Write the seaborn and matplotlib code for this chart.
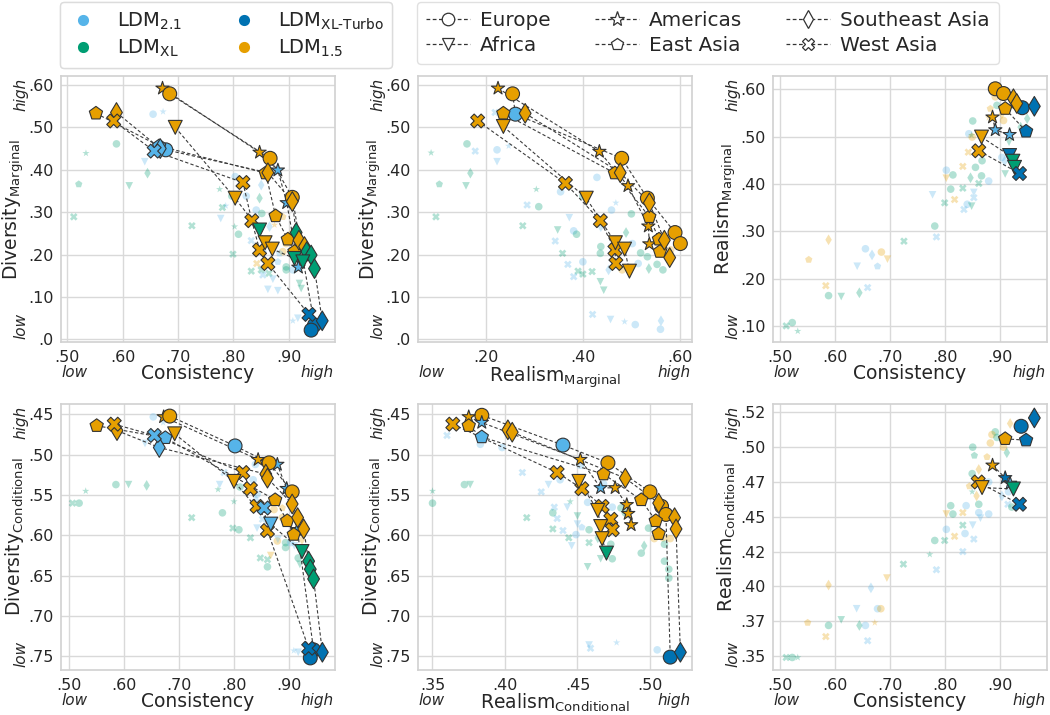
import numpy as np
import pandas as pd
import matplotlib
matplotlib.use("Agg")
import matplotlib.pyplot as plt
import seaborn as sns
from matplotlib.lines import Line2D
from matplotlib.ticker import FuncFormatter, FixedLocator

# ---------------- data ----------------
MODEL_CODES = ["b", "g", "t", "o"]
MODEL_LABELS = [r"LDM$_{\mathrm{2.1}}$", r"LDM$_{\mathrm{XL}}$",
                r"LDM$_{\mathrm{XL\text{-}Turbo}}$", r"LDM$_{\mathrm{1.5}}$"]
REGION_CODES = ["EU", "AF", "AM", "EA", "SEA", "WA"]
REGION_LABELS = ["Europe", "Africa", "Americas", "East Asia", "Southeast Asia", "West Asia"]

# front points: (line/region, model, x, y)
P1_FRONT = [
    ("AM", "o", 0.672, 0.592), ("AM", "o", 0.847, 0.441), ("AM", "b", 0.880, 0.399), ("AM", "b", 0.896, 0.322), ("AM", "b", 0.917, 0.170),
    ("EU", "o", 0.685, 0.579), ("EU", "o", 0.866, 0.427), ("EU", "o", 0.906, 0.335), ("EU", "t", 0.946, 0.034), ("EU", "t", 0.940, 0.022),
    ("EU2", "b", 0.678, 0.447),
    ("EA", "o", 0.552, 0.533), ("EA", "b", 0.666, 0.456), ("EA", "o", 0.858, 0.392), ("EA", "o", 0.876, 0.291), ("EA", "o", 0.898, 0.236), ("EA", "o", 0.910, 0.207),
    ("SEA", "o", 0.589, 0.535), ("SEA", "b", 0.668, 0.450), ("SEA", "o", 0.862, 0.393), ("SEA", "o", 0.906, 0.325), ("SEA", "g", 0.913, 0.252), ("SEA", "o", 0.918, 0.234), ("SEA", "o", 0.928, 0.219), ("SEA", "g", 0.932, 0.207), ("SEA", "g", 0.940, 0.199), ("SEA", "g", 0.946, 0.167), ("SEA", "t", 0.960, 0.044),
    ("WA", "o", 0.584, 0.515), ("WA", "b", 0.657, 0.444), ("WA", "o", 0.817, 0.370), ("WA", "o", 0.833, 0.280), ("WA", "o", 0.847, 0.211), ("WA", "o", 0.862, 0.179), ("WA", "t", 0.936, 0.059),
    ("AF", "o", 0.695, 0.500), ("AF", "o", 0.803, 0.333), ("AF", "g", 0.847, 0.258), ("AF", "o", 0.857, 0.228), ("AF", "o", 0.870, 0.213), ("AF", "g", 0.910, 0.191), ("AF", "g", 0.925, 0.183),
]
P1_BG = [
    ("b", "EU", 0.655, 0.531), ("b", "AM", 0.673, 0.537), ("g", "EU", 0.589, 0.461), ("g", "AM", 0.534, 0.439), ("b", "AF", 0.640, 0.419), ("g", "SEA", 0.645, 0.392), ("g", "EA", 0.521, 0.366), ("g", "AF", 0.612, 0.362), ("g", "WA", 0.512, 0.289), ("g", "WA", 0.725, 0.268),
    ("b", "EU", 0.803, 0.384), ("g", "AM", 0.775, 0.354), ("b", "AM", 0.786, 0.315), ("g", "WA", 0.780, 0.311), ("b", "AF", 0.777, 0.285), ("g", "EU", 0.797, 0.338), ("b", "EU", 0.823, 0.338), ("b", "SEA", 0.850, 0.364), ("g", "SEA", 0.847, 0.333), ("b", "EU", 0.841, 0.305),
    ("g", "EU", 0.851, 0.297), ("g", "EU", 0.809, 0.248), ("g", "AM", 0.802, 0.266), ("b", "SEA", 0.865, 0.266), ("o", "AM", 0.874, 0.270), ("o", "EA", 0.889, 0.289), ("b", "WA", 0.832, 0.233), ("g", "WA", 0.799, 0.201), ("b", "EU", 0.853, 0.207), ("o", "EU", 0.895, 0.226),
    ("o", "EU", 0.889, 0.207), ("o", "EA", 0.904, 0.250), ("g", "EU", 0.895, 0.171), ("g", "EU", 0.895, 0.164), ("g", "EU", 0.865, 0.179), ("o", "WA", 0.842, 0.179), ("g", "WA", 0.832, 0.161), ("g", "WA", 0.850, 0.164), ("b", "WA", 0.853, 0.152), ("g", "WA", 0.864, 0.156),
    ("b", "EA", 0.880, 0.183), ("b", "AF", 0.871, 0.142), ("b", "AF", 0.862, 0.118), ("b", "AF", 0.880, 0.115), ("g", "AF", 0.919, 0.132), ("g", "AF", 0.922, 0.120), ("b", "AF", 0.916, 0.050), ("b", "AM", 0.907, 0.044), ("b", "EU", 0.907, 0.164), ("b", "EA", 0.883, 0.203),
]

P2_FRONT = [
    ("AM", "o", 0.225, 0.592), ("AM", "o", 0.434, 0.443), ("AM", "o", 0.493, 0.362), ("AM", "o", 0.535, 0.267), ("AM", "o", 0.537, 0.225),
    ("EU", "o", 0.255, 0.579), ("EU", "b", 0.261, 0.531), ("EU", "o", 0.480, 0.427), ("EU", "o", 0.533, 0.333), ("EU", "o", 0.590, 0.252), ("EU", "o", 0.601, 0.226),
    ("EA", "o", 0.236, 0.533), ("EA", "o", 0.466, 0.392), ("EA", "o", 0.537, 0.289), ("EA", "o", 0.557, 0.236), ("EA", "o", 0.559, 0.207),
    ("SEA", "o", 0.281, 0.533), ("SEA", "o", 0.477, 0.393), ("SEA", "o", 0.537, 0.322), ("SEA", "o", 0.568, 0.234), ("SEA", "o", 0.579, 0.193),
    ("WA", "o", 0.183, 0.515), ("WA", "o", 0.364, 0.368), ("WA", "o", 0.436, 0.280), ("WA", "o", 0.466, 0.211), ("WA", "o", 0.468, 0.179),
    ("AF", "o", 0.236, 0.502), ("AF", "o", 0.407, 0.333), ("AF", "o", 0.467, 0.228), ("AF", "o", 0.486, 0.213), ("AF", "o", 0.496, 0.161),
]
P2_BG = [
    ("g", "AM", 0.087, 0.440), ("g", "EU", 0.161, 0.461), ("b", "WA", 0.178, 0.444), ("b", "EU", 0.223, 0.447), ("b", "AM", 0.247, 0.456), ("b", "WA", 0.219, 0.535), ("b", "AF", 0.223, 0.419), ("g", "SEA", 0.168, 0.392), ("g", "EA", 0.104, 0.366), ("g", "AF", 0.159, 0.362),
    ("g", "WA", 0.097, 0.289), ("g", "AM", 0.304, 0.354), ("b", "WA", 0.285, 0.317), ("g", "EU", 0.309, 0.313), ("g", "WA", 0.276, 0.268), ("b", "EU", 0.429, 0.382), ("b", "EU", 0.354, 0.348), ("g", "EU", 0.400, 0.338), ("b", "EU", 0.459, 0.305), ("g", "EU", 0.500, 0.296),
    ("b", "AM", 0.468, 0.322), ("b", "AF", 0.372, 0.287), ("b", "EU", 0.381, 0.256), ("g", "EU", 0.387, 0.248), ("b", "SEA", 0.437, 0.266), ("g", "AF", 0.348, 0.258), ("b", "WA", 0.343, 0.232), ("g", "WA", 0.358, 0.203), ("g", "EU", 0.437, 0.219), ("b", "EU", 0.400, 0.183),
    ("g", "EU", 0.436, 0.203), ("g", "SEA", 0.489, 0.252), ("b", "WA", 0.369, 0.177), ("g", "WA", 0.390, 0.161), ("b", "WA", 0.381, 0.148), ("g", "WA", 0.400, 0.154), ("g", "WA", 0.419, 0.160), ("b", "SEA", 0.453, 0.164), ("g", "EU", 0.466, 0.179), ("b", "EU", 0.502, 0.226),
    ("b", "EU", 0.514, 0.179), ("g", "EU", 0.553, 0.177), ("g", "EU", 0.565, 0.164), ("g", "EU", 0.533, 0.195), ("g", "EU", 0.519, 0.204), ("g", "SEA", 0.536, 0.167), ("o", "EU", 0.481, 0.164), ("o", "EU", 0.581, 0.211), ("g", "AF", 0.436, 0.136), ("g", "AF", 0.443, 0.116),
    ("b", "WA", 0.420, 0.059), ("b", "AF", 0.457, 0.047), ("b", "AM", 0.486, 0.042), ("b", "EU", 0.508, 0.035), ("b", "EU", 0.560, 0.024), ("b", "SEA", 0.561, 0.044),
]

P3_FRONT = [
    ("EU", "o", 0.892, 0.601), ("EU", "o", 0.907, 0.591), ("EU", "t", 0.941, 0.561),
    ("SEA", "o", 0.925, 0.580), ("SEA", "o", 0.931, 0.570), ("SEA", "t", 0.963, 0.564),
    ("EA", "o", 0.910, 0.559), ("EA", "t", 0.948, 0.511),
    ("AM", "o", 0.887, 0.541), ("AM", "b", 0.892, 0.514), ("AM", "b", 0.918, 0.504),
    ("AF", "o", 0.867, 0.499), ("AF", "t", 0.918, 0.460), ("AF", "g", 0.924, 0.448), ("AF", "g", 0.927, 0.435),
    ("WA", "o", 0.862, 0.470), ("WA", "t", 0.936, 0.422),
]
P3_BG = [
    ("o", "EU", 0.892, 0.584), ("o", "EA", 0.883, 0.559), ("g", "EU", 0.895, 0.566), ("o", "EU", 0.907, 0.534), ("o", "SEA", 0.904, 0.548), ("g", "EU", 0.851, 0.533), ("o", "AM", 0.880, 0.540), ("g", "SEA", 0.950, 0.538), ("g", "SEA", 0.938, 0.520), ("g", "AF", 0.917, 0.488),
    ("b", "EU", 0.844, 0.506), ("g", "AM", 0.849, 0.503), ("o", "EU", 0.850, 0.499), ("b", "EU", 0.904, 0.456), ("b", "SEA", 0.909, 0.448), ("o", "WA", 0.843, 0.467), ("g", "EU", 0.868, 0.449), ("g", "EU", 0.856, 0.435), ("g", "SEA", 0.847, 0.413), ("g", "EU", 0.867, 0.417),
    ("b", "EU", 0.880, 0.406), ("g", "WA", 0.862, 0.401), ("o", "WA", 0.833, 0.437), ("g", "AF", 0.910, 0.421), ("b", "EU", 0.803, 0.429), ("g", "EU", 0.815, 0.419), ("o", "AF", 0.803, 0.412), ("g", "EU", 0.811, 0.389), ("g", "WA", 0.833, 0.391), ("o", "WA", 0.818, 0.367),
    ("g", "WA", 0.800, 0.360), ("b", "AF", 0.778, 0.377), ("b", "AF", 0.853, 0.382), ("b", "WA", 0.853, 0.371), ("b", "EU", 0.841, 0.357), ("g", "AF", 0.849, 0.353), ("b", "WA", 0.835, 0.346), ("g", "EU", 0.782, 0.311), ("b", "WA", 0.785, 0.288), ("g", "WA", 0.726, 0.279),
    ("o", "SEA", 0.589, 0.282), ("b", "EU", 0.656, 0.263), ("b", "SEA", 0.668, 0.250), ("o", "EU", 0.685, 0.256), ("o", "AF", 0.696, 0.241), ("b", "EA", 0.678, 0.226), ("b", "AF", 0.641, 0.226), ("o", "EA", 0.553, 0.240), ("o", "WA", 0.584, 0.185), ("g", "EU", 0.589, 0.164),
    ("g", "AF", 0.612, 0.162), ("b", "WA", 0.660, 0.181), ("g", "SEA", 0.645, 0.170), ("g", "EU", 0.523, 0.107), ("g", "WA", 0.512, 0.100), ("g", "AM", 0.533, 0.089),
]

P4_FRONT = [
    ("AM", "o", 0.672, 0.453), ("AM", "o", 0.844, 0.506), ("AM", "b", 0.879, 0.512), ("AM", "b", 0.896, 0.542), ("AM", "b", 0.915, 0.593),
    ("EU", "o", 0.683, 0.452), ("EU", "b", 0.802, 0.489), ("EU", "o", 0.864, 0.510), ("EU", "o", 0.906, 0.546), ("EU", "t", 0.945, 0.742), ("EU", "t", 0.939, 0.752),
    ("EA", "o", 0.550, 0.464), ("EA", "b", 0.675, 0.479), ("EA", "o", 0.875, 0.556), ("EA", "o", 0.897, 0.582), ("EA", "o", 0.909, 0.599),
    ("SEA", "o", 0.587, 0.470), ("SEA", "b", 0.664, 0.491), ("SEA", "o", 0.858, 0.524), ("SEA", "o", 0.861, 0.529), ("SEA", "o", 0.906, 0.561), ("SEA", "o", 0.916, 0.578), ("SEA", "o", 0.927, 0.592), ("SEA", "g", 0.936, 0.632), ("SEA", "g", 0.939, 0.642), ("SEA", "g", 0.945, 0.654), ("SEA", "t", 0.961, 0.745),
    ("WA", "o", 0.582, 0.462), ("WA", "b", 0.655, 0.476), ("WA", "o", 0.816, 0.522), ("WA", "o", 0.830, 0.542), ("WA", "o", 0.842, 0.564), ("WA", "b", 0.855, 0.566), ("WA", "o", 0.861, 0.594), ("WA", "t", 0.936, 0.740),
    ("AF", "o", 0.692, 0.474), ("AF", "o", 0.800, 0.533), ("AF", "b", 0.867, 0.586), ("AF", "g", 0.924, 0.620),
]
P4_BG = [
    ("b", "EU", 0.653, 0.453), ("b", "AM", 0.671, 0.460), ("b", "AF", 0.638, 0.486), ("g", "AM", 0.530, 0.545), ("g", "EU", 0.585, 0.537), ("g", "AF", 0.608, 0.537), ("g", "SEA", 0.641, 0.538), ("g", "WA", 0.506, 0.560), ("g", "EU", 0.518, 0.560), ("g", "WA", 0.723, 0.578),
    ("g", "EU", 0.779, 0.572), ("b", "WA", 0.782, 0.522), ("b", "AF", 0.774, 0.537), ("g", "AM", 0.771, 0.543), ("g", "AM", 0.800, 0.558), ("g", "EU", 0.811, 0.540), ("b", "EU", 0.839, 0.512), ("b", "EU", 0.835, 0.531), ("b", "EU", 0.842, 0.549), ("b", "SEA", 0.840, 0.556),
    ("g", "WA", 0.798, 0.591), ("g", "EU", 0.809, 0.593), ("g", "WA", 0.830, 0.603), ("o", "EU", 0.873, 0.568), ("o", "AM", 0.861, 0.582), ("o", "EA", 0.888, 0.566), ("o", "EU", 0.888, 0.578), ("o", "EU", 0.879, 0.607), ("g", "EU", 0.894, 0.609), ("g", "EU", 0.894, 0.615),
    ("g", "WA", 0.848, 0.628), ("g", "WA", 0.861, 0.630), ("g", "EU", 0.861, 0.639), ("b", "AF", 0.880, 0.605), ("o", "AF", 0.867, 0.625), ("b", "EU", 0.903, 0.609), ("o", "SEA", 0.924, 0.605), ("b", "AF", 0.910, 0.613), ("g", "EU", 0.917, 0.628), ("g", "AF", 0.920, 0.636),
    ("b", "AM", 0.909, 0.743), ("b", "AF", 0.917, 0.745), ("b", "AF", 0.842, 0.591), ("b", "WA", 0.852, 0.580),
]

P5_FRONT = [
    ("EU", "o", 0.384, 0.451), ("EU", "b", 0.440, 0.488), ("EU", "o", 0.471, 0.510), ("EU", "o", 0.500, 0.546), ("EU", "o", 0.508, 0.564), ("EU", "o", 0.511, 0.574), ("EU", "t", 0.514, 0.751),
    ("AM", "o", 0.375, 0.453), ("AM", "b", 0.384, 0.460), ("AM", "o", 0.452, 0.506), ("AM", "b", 0.466, 0.541), ("AM", "o", 0.476, 0.541), ("AM", "o", 0.484, 0.562), ("AM", "o", 0.485, 0.573), ("AM", "o", 0.487, 0.587),
    ("EA", "o", 0.375, 0.464), ("EA", "b", 0.384, 0.478), ("EA", "o", 0.468, 0.524), ("EA", "o", 0.494, 0.556), ("EA", "o", 0.504, 0.582), ("EA", "o", 0.506, 0.598),
    ("SEA", "o", 0.402, 0.469), ("SEA", "o", 0.405, 0.472), ("SEA", "o", 0.483, 0.529), ("SEA", "o", 0.506, 0.560), ("SEA", "o", 0.517, 0.578), ("SEA", "o", 0.518, 0.592), ("SEA", "t", 0.521, 0.745),
    ("WA", "o", 0.364, 0.462), ("WA", "o", 0.436, 0.522), ("WA", "o", 0.453, 0.542), ("WA", "o", 0.467, 0.564), ("WA", "o", 0.473, 0.580), ("WA", "o", 0.474, 0.593),
    ("AF", "o", 0.451, 0.533), ("AF", "o", 0.464, 0.569), ("AF", "o", 0.466, 0.589), ("AF", "o", 0.467, 0.604), ("AF", "g", 0.470, 0.622),
]
P5_BG = [
    ("b", "WA", 0.360, 0.476), ("b", "EU", 0.383, 0.487), ("b", "EU", 0.398, 0.491), ("g", "AM", 0.350, 0.545), ("g", "EU", 0.350, 0.560), ("g", "EU", 0.372, 0.537), ("g", "AF", 0.376, 0.537), ("b", "WA", 0.412, 0.522), ("b", "AF", 0.430, 0.537), ("b", "WA", 0.425, 0.546),
    ("b", "EU", 0.438, 0.531), ("b", "EU", 0.452, 0.513), ("b", "EU", 0.468, 0.536), ("g", "AM", 0.445, 0.558), ("b", "AF", 0.443, 0.565), ("b", "WA", 0.434, 0.565), ("b", "WA", 0.436, 0.579), ("g", "EU", 0.433, 0.572), ("g", "WA", 0.415, 0.578), ("b", "EU", 0.457, 0.559),
    ("b", "EU", 0.474, 0.565), ("g", "EU", 0.480, 0.566), ("g", "EU", 0.483, 0.572), ("g", "WA", 0.433, 0.592), ("b", "WA", 0.440, 0.594), ("b", "AF", 0.450, 0.586), ("b", "EA", 0.453, 0.590), ("b", "EU", 0.449, 0.599), ("b", "AF", 0.446, 0.613), ("g", "WA", 0.444, 0.603),
    ("g", "EU", 0.458, 0.593), ("g", "WA", 0.458, 0.609), ("g", "AF", 0.450, 0.576), ("g", "SEA", 0.464, 0.603), ("g", "EU", 0.473, 0.611), ("g", "EU", 0.474, 0.629), ("g", "AF", 0.466, 0.629), ("g", "AF", 0.457, 0.639), ("o", "EU", 0.503, 0.604), ("o", "EU", 0.509, 0.603),
    ("o", "EU", 0.514, 0.604), ("g", "EU", 0.499, 0.591), ("g", "EU", 0.510, 0.611), ("g", "SEA", 0.496, 0.613), ("g", "EU", 0.494, 0.622), ("g", "EU", 0.510, 0.632), ("g", "EU", 0.513, 0.642), ("g", "EU", 0.513, 0.653), ("b", "AF", 0.458, 0.736), ("b", "WA", 0.459, 0.740),
    ("b", "AM", 0.477, 0.733), ("b", "EU", 0.505, 0.742),
]

P6_FRONT = [
    ("SEA", "t", 0.963, 0.521), ("EU", "t", 0.939, 0.515),
    ("EA", "o", 0.910, 0.506), ("EA", "t", 0.948, 0.505),
    ("AM", "o", 0.887, 0.487), ("AM", "t", 0.910, 0.478), ("AM", "b", 0.919, 0.474),
    ("WA", "o", 0.861, 0.475), ("WA", "t", 0.936, 0.459),
    ("AF", "o", 0.868, 0.471), ("AF", "g", 0.925, 0.470),
]
P6_BG = [
    ("o", "SEA", 0.919, 0.517), ("o", "SEA", 0.931, 0.515), ("g", "EU", 0.892, 0.511), ("o", "EU", 0.886, 0.509), ("g", "EU", 0.895, 0.507), ("o", "EU", 0.883, 0.503), ("o", "EU", 0.907, 0.500), ("g", "EU", 0.851, 0.500), ("g", "EA", 0.854, 0.494), ("o", "EA", 0.877, 0.493),
    ("g", "SEA", 0.913, 0.496), ("g", "EU", 0.850, 0.481), ("o", "SEA", 0.862, 0.484), ("o", "EA", 0.845, 0.472), ("g", "AM", 0.850, 0.468), ("o", "SEA", 0.858, 0.465), ("b", "EU", 0.880, 0.475), ("b", "EU", 0.916, 0.468), ("b", "SEA", 0.904, 0.465), ("b", "WA", 0.915, 0.459),
    ("g", "EU", 0.922, 0.457), ("g", "EU", 0.862, 0.459), ("b", "EU", 0.839, 0.458), ("b", "EU", 0.862, 0.453), ("b", "AF", 0.865, 0.449), ("b", "EU", 0.880, 0.452), ("g", "EU", 0.811, 0.458), ("g", "EU", 0.815, 0.452), ("o", "AF", 0.803, 0.452), ("o", "WA", 0.833, 0.453),
    ("g", "WA", 0.833, 0.444), ("b", "AF", 0.851, 0.444), ("b", "WA", 0.853, 0.434), ("b", "EU", 0.837, 0.438), ("b", "EU", 0.803, 0.441), ("o", "WA", 0.818, 0.436), ("g", "WA", 0.800, 0.433), ("g", "EU", 0.782, 0.433), ("b", "WA", 0.833, 0.425), ("g", "AM", 0.773, 0.423),
    ("g", "WA", 0.725, 0.416), ("b", "WA", 0.785, 0.412), ("o", "AF", 0.695, 0.406), ("o", "SEA", 0.589, 0.401), ("b", "SEA", 0.666, 0.399), ("b", "AF", 0.640, 0.384), ("b", "EU", 0.678, 0.384), ("o", "EU", 0.684, 0.384), ("o", "EA", 0.551, 0.374), ("g", "AF", 0.612, 0.376),
    ("g", "EU", 0.589, 0.372), ("g", "SEA", 0.645, 0.372), ("b", "EU", 0.656, 0.372), ("o", "AM", 0.673, 0.374), ("o", "WA", 0.584, 0.364), ("b", "WA", 0.660, 0.361), ("g", "WA", 0.512, 0.349), ("g", "EU", 0.523, 0.349), ("g", "AM", 0.533, 0.349),
]

TICKS_CONS = [0.50, 0.60, 0.70, 0.80, 0.90]
TICKS_DIV_M = [0.0, 0.1, 0.2, 0.3, 0.4, 0.5, 0.6]
TICKS_REAL_M_X = [0.2, 0.4, 0.6]
TICKS_REAL_M_Y = [0.1, 0.2, 0.3, 0.4, 0.5, 0.6]
TICKS_DIV_C = [0.45, 0.50, 0.55, 0.60, 0.65, 0.70, 0.75]
TICKS_REAL_C_X = [0.35, 0.40, 0.45, 0.50]
TICKS_REAL_C_Y = [0.35, 0.375, 0.40, 0.425, 0.45, 0.475, 0.50, 0.525]

# ---------------- style ----------------
sns.set_style("whitegrid", {"axes.edgecolor": "0.82", "grid.color": "0.85"})
plt.rcParams["font.family"] = ["DejaVu Sans"]
plt.rcParams["axes.linewidth"] = 1.2
plt.rcParams["grid.linewidth"] = 1.0

PALETTE = {"b": "#56B4E9", "g": "#009E73", "t": "#0072B2", "o": "#E69F00"}
MARKERS = {"EU": "o", "AF": "v", "AM": "*", "EA": "p", "SEA": "d", "WA": "X"}
TXT = "#262626"

fig = plt.figure(figsize=(10.5, 7.15), dpi=100)

LEFTS = [61 / 1050, 418 / 1050, 773 / 1050]
W = 274 / 1050
H = 266 / 715
BOTS = [1 - 342 / 715, 1 - 670 / 715]

SUB_M = r"$_{\mathrm{Marginal}}$"
SUB_C = r"$_{\mathrm{Conditional}}$"

panels = [
    dict(front=P1_FRONT, bg=P1_BG, xl="Consistency", yl="Diversity" + SUB_M, xlim=(0.489, 0.983), ylim=(-0.006, 0.621), xt=TICKS_CONS, yt=TICKS_DIV_M),
    dict(front=P2_FRONT, bg=P2_BG, xl="Realism" + SUB_M, yl="Diversity" + SUB_M, xlim=(0.060, 0.625), ylim=(-0.006, 0.621), xt=TICKS_REAL_M_X, yt=TICKS_DIV_M),
    dict(front=P3_FRONT, bg=P3_BG, xl="Consistency", yl="Realism" + SUB_M, xlim=(0.488, 0.986), ylim=(0.066, 0.628), xt=TICKS_CONS, yt=TICKS_REAL_M_Y),
    dict(front=P4_FRONT, bg=P4_BG, xl="Consistency", yl="Diversity" + SUB_C, xlim=(0.485, 0.984), ylim=(0.767, 0.437), xt=TICKS_CONS, yt=TICKS_DIV_C),
    dict(front=P5_FRONT, bg=P5_BG, xl="Realism" + SUB_C, yl="Diversity" + SUB_C, xlim=(0.340, 0.529), ylim=(0.767, 0.437), xt=TICKS_REAL_C_X, yt=TICKS_DIV_C),
    dict(front=P6_FRONT, bg=P6_BG, xl="Consistency", yl="Realism" + SUB_C, xlim=(0.488, 0.986), ylim=(0.340, 0.531), xt=TICKS_CONS, yt=TICKS_REAL_C_Y),
]


def fmt(v, pos):
    if abs(v) < 1e-9:
        return ".0"
    s = f"{np.floor(v * 100 + 1e-6) / 100:.2f}"
    return s[1:] if s.startswith("0") else s


for i, p in enumerate(panels):
    r, c = divmod(i, 3)
    ax = fig.add_axes([LEFTS[c], BOTS[r], W, H])
    bg = pd.DataFrame(p["bg"], columns=["model", "region", "x", "y"])
    fr = pd.DataFrame(p["front"], columns=["line", "model", "x", "y"])
    fr["region"] = fr["line"].str.rstrip("0123456789")

    sns.scatterplot(data=bg, x="x", y="y", hue="model", style="region", palette=PALETTE,
                    markers=MARKERS, s=30, alpha=0.3, linewidth=0, legend=False, ax=ax, zorder=2)
    for _, g in fr.groupby("line", sort=False):
        ax.plot(g["x"], g["y"], ls=(0, (3, 2)), color="#3c3c3c", lw=0.8, zorder=3)
    sns.scatterplot(data=fr, x="x", y="y", hue="model", style="region", palette=PALETTE,
                    markers=MARKERS, s=100, edgecolor="#333333", linewidth=0.8, legend=False,
                    ax=ax, zorder=4)

    ax.set_xlim(*p["xlim"])
    ax.set_ylim(*p["ylim"])
    ax.xaxis.set_major_locator(FixedLocator(p["xt"]))
    ax.yaxis.set_major_locator(FixedLocator(p["yt"]))
    ax.xaxis.set_major_formatter(FuncFormatter(fmt))
    ax.yaxis.set_major_formatter(FuncFormatter(fmt))
    ax.tick_params(labelsize=11.5, pad=2, labelcolor=TXT)
    ax.set_xlabel(p["xl"], fontsize=13.5, color=TXT)
    ax.set_ylabel(p["yl"], fontsize=13.5, color=TXT)
    ax.xaxis.set_label_coords(0.5, -0.083)
    ax.yaxis.set_label_coords(-0.128, 0.5)
    for s in ax.spines.values():
        s.set_visible(True)

    ax.text(0.048, -0.115, "low", transform=ax.transAxes, fontsize=11, style="italic",
            ha="center", va="center", color=TXT)
    ax.text(0.935, -0.115, "high", transform=ax.transAxes, fontsize=11, style="italic",
            ha="center", va="center", color=TXT)
    ax.text(-0.145, 0.93, "high", transform=ax.transAxes, fontsize=11, style="italic",
            ha="center", va="center", rotation=90, color=TXT)
    ax.text(-0.145, 0.06, "low", transform=ax.transAxes, fontsize=11, style="italic",
            ha="center", va="center", rotation=90, color=TXT)

# ---------------- legends ----------------
model_handles = [Line2D([], [], ls="none", marker="o", markersize=8, markerfacecolor=PALETTE[m],
                        markeredgewidth=0) for m in MODEL_CODES]
leg1 = fig.legend(model_handles, MODEL_LABELS, ncol=2, loc="upper left",
                  bbox_to_anchor=(58 / 1050, 1.0), borderaxespad=0.1, fontsize=14, frameon=True,
                  handletextpad=1.0, columnspacing=2.4, borderpad=0.45, labelspacing=0.3,
                  handlelength=1.5)
region_handles = [Line2D([], [], ls=(0, (3, 2)), color="#333333", lw=0.9, marker=MARKERS[r],
                         markersize=9 if r != "AM" else 11, markerfacecolor="white",
                         markeredgecolor="#333333", markeredgewidth=0.9) for r in REGION_CODES]
leg2 = fig.legend(region_handles, REGION_LABELS, ncol=3, loc="upper left",
                  bbox_to_anchor=(415 / 1050, 1.0), borderaxespad=0.1, fontsize=14.4, frameon=True,
                  handletextpad=0.5, columnspacing=2.2, borderpad=0.45, labelspacing=0.28,
                  handlelength=2.2)
for lg in (leg1, leg2):
    lg.get_frame().set_edgecolor("0.85")
    for t in lg.get_texts():
        t.set_color(TXT)
fig.add_artist(leg1)

fig.savefig("out.png", dpi=100)
